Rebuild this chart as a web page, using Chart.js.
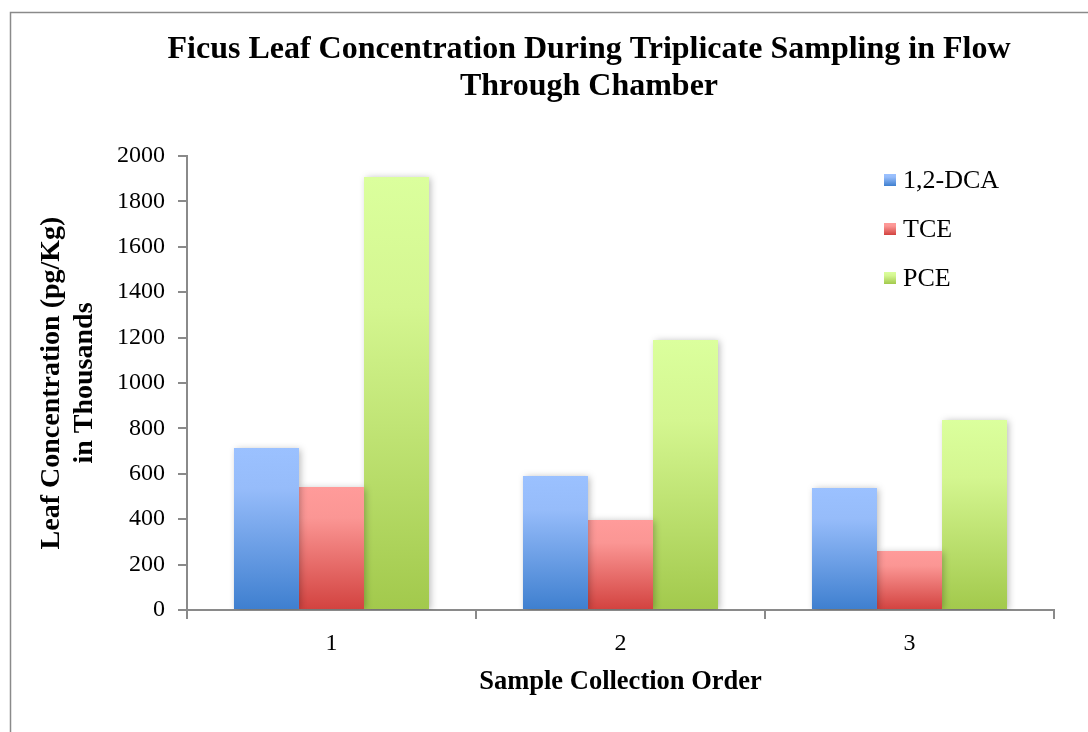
<!DOCTYPE html>
<html>
<head>
<meta charset="utf-8">
<script src="https://cdn.jsdelivr.net/npm/chart.js@4"></script>
<style>
  html, body { margin: 0; padding: 0; background: #ffffff; }
  #wrap { width: 1088px; height: 732px; position: relative; }
</style>
</head>
<body>
<div id="wrap"><canvas id="chart" width="1088" height="732"></canvas></div>
<script>
// Sample collection order and leaf concentrations (pg/Kg, thousands)
const categories = ['1', '2', '3'];
const seriesNames = ['1,2-DCA', 'TCE', 'PCE'];
const dcaValues = [714, 590, 537];
const tceValues = [542, 396, 260];
const pceValues = [1907, 1189, 837];
const yTickMin = 0;
const yTickMax = 2000;
const yTickStep = 200;

const titleLines = ['Ficus Leaf Concentration During Triplicate Sampling in Flow', 'Through Chamber'];
const yTitleLines = ['Leaf Concentration (pg/Kg)', 'in Thousands'];
const xTitleText = 'Sample Collection Order';

const SERIF = '"Liberation Serif", "Times New Roman", Times, serif';
const AXIS_GREY = '#8a8a8a';

// vertical gradient stops per series: light top, saturated bottom
const gradientStops = [
  [[0, '#9bc1ff'], [0.25, '#96bcfa'], [1, '#3e7fcf']],
  [[0, '#ff9b9a'], [0.25, '#fb9694'], [1, '#d2423f']],
  [[0, '#dbff9d'], [0.3, '#d4f690'], [1, '#a2c94c']]
];

function makeGradient(ctx, y0, y1, stops) {
  const g = ctx.createLinearGradient(0, y0, 0, y1);
  stops.forEach(s => g.addColorStop(s[0], s[1]));
  return g;
}

function barFill(seriesIndex) {
  return (context) => {
    const chart = context.chart;
    const stops = gradientStops[seriesIndex];
    if (!chart.chartArea || context.type !== 'data') return stops[stops.length - 1][1];
    const y = chart.scales.y;
    const top = y.getPixelForValue(context.parsed.y);
    const bottom = y.getPixelForValue(0);
    return makeGradient(chart.ctx, top, bottom, stops);
  };
}

// outer frame, title and legend
const decorations = {
  id: 'decorations',
  beforeDraw(chart) {
    const ctx = chart.ctx;
    ctx.save();
    ctx.fillStyle = '#ffffff';
    ctx.fillRect(0, 0, chart.width, chart.height);
    ctx.strokeStyle = AXIS_GREY;
    ctx.lineWidth = 1.5;
    ctx.strokeRect(10.5, 12.5, chart.width + 20, chart.height + 20);
    ctx.restore();
  },
  beforeDatasetsDraw(chart) {
    const ctx = chart.ctx;
    ctx.save();
    ctx.shadowColor = 'rgba(0,0,0,0.28)';
    ctx.shadowBlur = 7;
    ctx.shadowOffsetX = 2;
    ctx.shadowOffsetY = 1;
  },
  afterDatasetsDraw(chart) {
    chart.ctx.restore();
  },
  afterDraw(chart) {
    const ctx = chart.ctx;
    ctx.save();
    ctx.fillStyle = '#000000';
    ctx.textAlign = 'center';
    ctx.textBaseline = 'middle';
    ctx.font = 'bold 32px ' + SERIF;
    titleLines.forEach((line, i) => ctx.fillText(line, 589, 50 + i * 37));

    ctx.textAlign = 'left';
    ctx.font = '26px ' + SERIF;
    seriesNames.forEach((name, i) => {
      const cy = 180 + i * 49;
      ctx.fillStyle = makeGradient(ctx, cy - 6, cy + 6, gradientStops[i]);
      ctx.fillRect(884, cy - 6, 12, 12);
      ctx.fillStyle = '#000000';
      ctx.fillText(name, 903, cy + 1);
    });
    ctx.restore();
  }
};

const datasets = [dcaValues, tceValues, pceValues].map((vals, i) => ({
  label: seriesNames[i],
  data: vals,
  backgroundColor: barFill(i),
  borderWidth: 0,
  categoryPercentage: 0.675,
  barPercentage: 1.0
}));

new Chart(document.getElementById('chart'), {
  type: 'bar',
  data: { labels: categories, datasets },
  plugins: [decorations],
  options: {
    responsive: false,
    animation: false,
    events: [],
    layout: { padding: { left: 0, top: 156, right: 34, bottom: 0 } },
    plugins: {
      legend: { display: false },
      title: { display: false },
      tooltip: { enabled: false }
    },
    scales: {
      x: {
        afterFit(scale) { scale.height = 122; },
        grid: {
          offset: true,
          drawOnChartArea: false,
          drawTicks: true,
          tickLength: 9,
          color: AXIS_GREY,
          lineWidth: 2
        },
        border: { color: AXIS_GREY, width: 2 },
        ticks: {
          color: '#000000',
          padding: 10,
          font: { family: SERIF, size: 24 }
        },
        title: {
          display: true,
          text: xTitleText,
          color: '#000000',
          font: { family: SERIF, size: 26.5, weight: 'bold', lineHeight: 1.2 },
          padding: { top: 0, bottom: 34 }
        }
      },
      y: {
        min: yTickMin,
        max: yTickMax,
        afterFit(scale) { scale.width = 187; },
        grid: {
          drawOnChartArea: false,
          drawTicks: true,
          tickLength: 9,
          color: AXIS_GREY,
          lineWidth: 2
        },
        border: { color: AXIS_GREY, width: 2 },
        ticks: {
          stepSize: yTickStep,
          color: '#000000',
          padding: 13,
          font: { family: SERIF, size: 24 },
          callback: (value) => String(value)
        },
        title: {
          display: true,
          text: yTitleLines,
          color: '#000000',
          font: { family: SERIF, size: 28, weight: 'bold', lineHeight: 1.18 },
          padding: { top: 35, bottom: 0 }
        }
      }
    }
  }
});
</script>
</body>
</html>
